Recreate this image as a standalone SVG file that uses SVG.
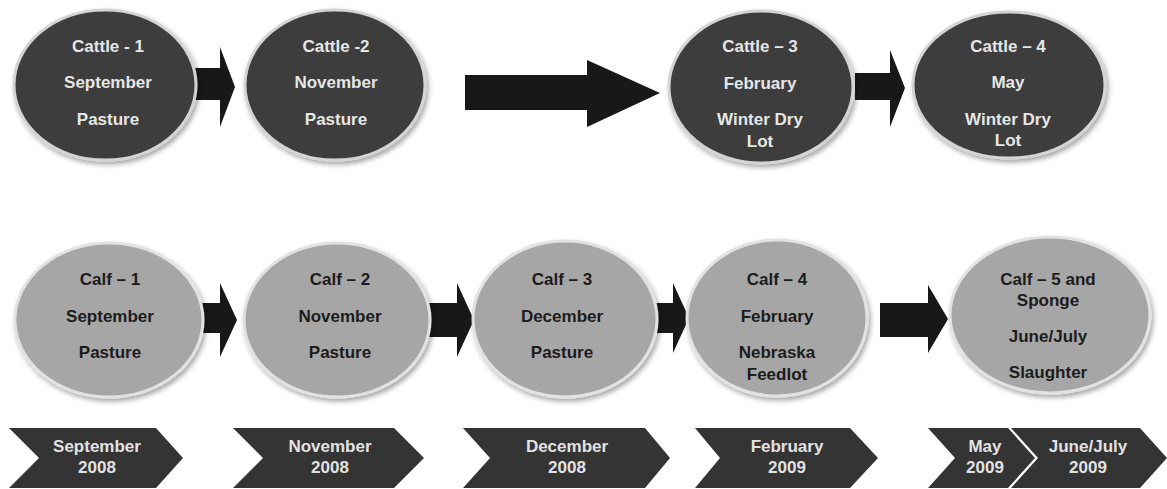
<svg xmlns="http://www.w3.org/2000/svg" width="1167" height="489" viewBox="0 0 1167 489">
<defs>
<filter id="sh" x="-20%" y="-20%" width="140%" height="140%">
<feDropShadow dx="2" dy="3" stdDeviation="2.5" flood-color="#000" flood-opacity="0.35"/>
</filter>
<style>
text{font-family:"Liberation Sans",Arial,sans-serif;font-weight:bold;font-size:17px;text-anchor:middle}
.dark{fill:#3c3c3c;stroke:#d4d4d4;stroke-width:3;filter:url(#sh)}
.light{fill:#a6a6a6;stroke:#e2e2e2;stroke-width:3;filter:url(#sh)}
.tw{fill:#e6e6e6}
.tb{fill:#1c1c1c}
.arr{fill:#181818}
.chev{fill:#343434}
.tc{fill:#e2e2e2}
</style>
</defs>
<rect width="1167" height="489" fill="#ffffff"/>
<g id="connectors">
<polygon class="arr" points="185,68 220,68 220,47 235,87 220,127 220,100 185,100"/>
<polygon class="arr" points="465,75 587,75 587,60 660,93 587,127 587,110 465,110"/>
<polygon class="arr" points="855,73 890,73 890,50 905,88 890,127 890,100 855,100"/>
<polygon class="arr" points="190,303 220,303 220,283 237,320 220,357 220,333 190,333"/>
<polygon class="arr" points="425,303 457,303 457,283 474,320 457,357 457,337 425,337"/>
<polygon class="arr" points="643,303 673,303 673,283 689,318 673,353 673,333 643,333"/>
<polygon class="arr" points="880,303 928,303 928,285 948,319 928,353 928,337 880,337"/>
</g>
<g id="cattle1"><ellipse class="dark" cx="105" cy="85" rx="91" ry="75"/>
<text class="tw" x="108" y="52">Cattle - 1</text><text class="tw" x="108" y="88">September</text><text class="tw" x="108" y="125">Pasture</text></g>
<g id="cattle2"><ellipse class="dark" cx="335" cy="85" rx="90" ry="75"/>
<text class="tw" x="336" y="52">Cattle -2</text><text class="tw" x="336" y="88">November</text><text class="tw" x="336" y="125">Pasture</text></g>
<g id="cattle3"><ellipse class="dark" cx="761" cy="87" rx="92" ry="76"/>
<text class="tw" x="760" y="52">Cattle – 3</text><text class="tw" x="760" y="89">February</text><text class="tw" x="760" y="125">Winter Dry</text><text class="tw" x="760" y="147">Lot</text></g>
<g id="cattle4"><ellipse class="dark" cx="1009" cy="85" rx="96" ry="73"/>
<text class="tw" x="1008" y="52">Cattle – 4</text><text class="tw" x="1008" y="88">May</text><text class="tw" x="1008" y="125">Winter Dry</text><text class="tw" x="1008" y="146">Lot</text></g>
<g id="calf1"><ellipse class="light" cx="109" cy="320" rx="94" ry="77"/>
<text class="tb" x="110" y="285">Calf – 1</text><text class="tb" x="110" y="322">September</text><text class="tb" x="110" y="358">Pasture</text></g>
<g id="calf2"><ellipse class="light" cx="337" cy="320" rx="93" ry="77"/>
<text class="tb" x="340" y="285">Calf – 2</text><text class="tb" x="340" y="322">November</text><text class="tb" x="340" y="358">Pasture</text></g>
<g id="calf3"><ellipse class="light" cx="565" cy="319" rx="92" ry="78"/>
<text class="tb" x="562" y="285">Calf – 3</text><text class="tb" x="562" y="322">December</text><text class="tb" x="562" y="358">Pasture</text></g>
<g id="calf4"><ellipse class="light" cx="777" cy="318" rx="90" ry="78"/>
<text class="tb" x="777" y="285">Calf – 4</text><text class="tb" x="777" y="322">February</text><text class="tb" x="777" y="358">Nebraska</text><text class="tb" x="777" y="380">Feedlot</text></g>
<g id="calf5"><ellipse class="light" cx="1050" cy="315" rx="100" ry="78"/>
<text class="tb" x="1048" y="285">Calf – 5 and</text><text class="tb" x="1048" y="306">Sponge</text><text class="tb" x="1048" y="342">June/July</text><text class="tb" x="1048" y="378">Slaughter</text></g>
<g id="tl-sep2008"><polygon class="chev" points="9,428 156,428 183,458 156,488 9,488 39,458"/>
<text class="tc" x="97" y="452">September</text><text class="tc" x="97" y="473">2008</text></g>
<g id="tl-nov2008"><polygon class="chev" points="233,428 394,428 424,458 394,488 233,488 263,458"/>
<text class="tc" x="330" y="452">November</text><text class="tc" x="330" y="473">2008</text></g>
<g id="tl-dec2008"><polygon class="chev" points="463,428 645,428 670,458 645,488 463,488 490,458"/>
<text class="tc" x="567" y="452">December</text><text class="tc" x="567" y="473">2008</text></g>
<g id="tl-feb2009"><polygon class="chev" points="695,428 850,428 878,458 850,488 695,488 720,458"/>
<text class="tc" x="787" y="452">February</text><text class="tc" x="787" y="473">2009</text></g>
<g id="tl-may2009"><polygon class="chev" points="928,428 1008,428 1035,458 1008,488 928,488 955,458"/>
<text class="tc" x="985" y="452">May</text><text class="tc" x="985" y="473">2009</text></g>
<g id="tl-junjul2009"><polygon class="chev" points="1011,428 1140,428 1167,458 1140,488 1011,488 1038,458"/>
<text class="tc" x="1088" y="452">June/July</text><text class="tc" x="1088" y="473">2009</text></g>
</svg>
